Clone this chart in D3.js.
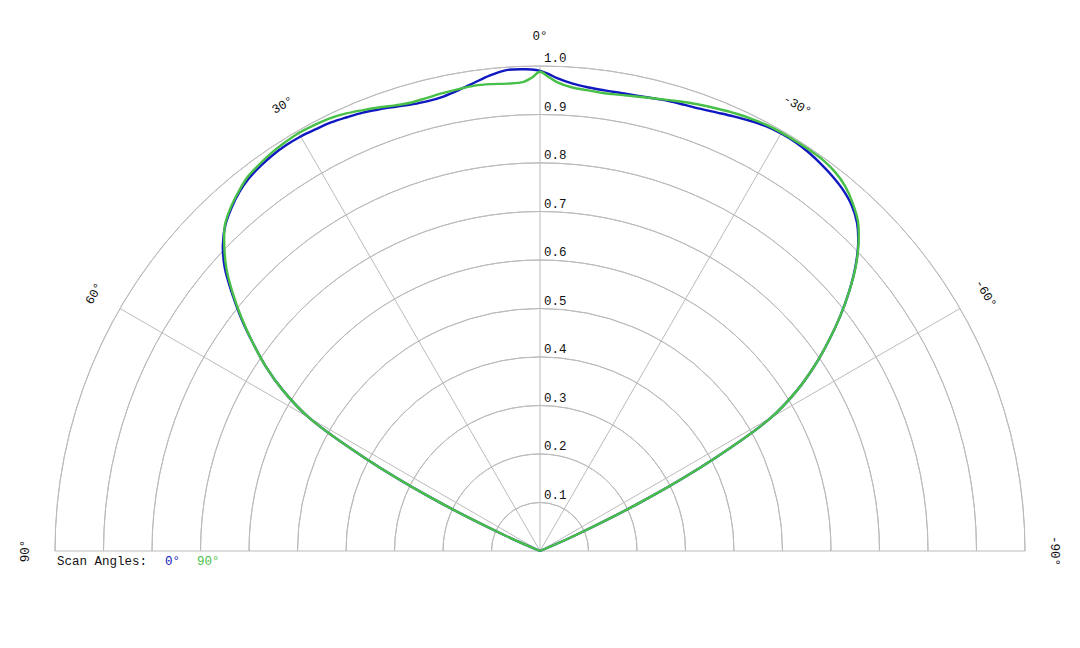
<!DOCTYPE html>
<html>
<head>
<meta charset="utf-8">
<script src="https://cdn.jsdelivr.net/npm/d3@7"></script>
<style>
  html, body { margin: 0; padding: 0; background: #fff; }
  svg text { font-family: "Courier New", "Liberation Mono", "DejaVu Sans Mono", monospace; }
</style>
</head>
<body>
<svg id="chart" width="1080" height="648"></svg>
<script>
// Angles in degrees (positive = left of vertical, negative = right)
const angles = [-90,-80,-70,-68,-66,-64,-62,-60,-58,-56,-54,-52,-50,-48,-46,-44,-42,-40,-38,-36,-34,-32,-30,-28,-26,-24,-22,-20,-18,-16,-14,-12,-10,-8,-6,-4,-2,-1,0,
                1,2,4,6,8,10,12,14,16,18,20,22,24,26,28,30,32,34,36,38,40,42,44,46,48,50,52,54,56,58,60,62,64,66,68,70,80,90];

const scan0 = [0,0,0,0,0.08,0.245,0.41,0.55,0.625,0.683,0.735,0.785,0.832,0.875,0.912,0.941,0.960,0.972,0.980,0.986,0.991,0.994,0.994,0.992,0.987,0.981,0.975,0.970,0.967,0.965,0.962,0.960,0.959,0.959,0.961,0.966,0.976,0.984,0.990,
               0.993,0.994,0.994,0.986,0.975,0.965,0.958,0.956,0.958,0.963,0.969,0.975,0.979,0.983,0.985,0.987,0.987,0.985,0.981,0.975,0.965,0.951,0.934,0.909,0.875,0.830,0.783,0.733,0.683,0.625,0.55,0.41,0.245,0.08,0,0,0,0];

const scan90 = [0,0,0,0,0.08,0.245,0.41,0.55,0.625,0.683,0.735,0.785,0.832,0.876,0.913,0.944,0.964,0.980,0.990,0.995,0.996,0.996,0.996,0.995,0.992,0.988,0.983,0.978,0.973,0.967,0.962,0.958,0.955,0.953,0.955,0.958,0.968,0.978,0.988,
                0.976,0.968,0.966,0.968,0.969,0.967,0.965,0.963,0.962,0.966,0.973,0.980,0.987,0.992,0.994,0.995,0.993,0.990,0.985,0.979,0.967,0.953,0.935,0.905,0.870,0.827,0.781,0.733,0.683,0.625,0.55,0.41,0.245,0.08,0,0,0,0];

const ringTicks = [0.1,0.2,0.3,0.4,0.5,0.6,0.7,0.8,0.9,1.0];
const spokeAngles = [-90,-60,-30,0,30,60,90];
const angleLabels = ["-90°","-60°","-30°","0°","30°","60°","90°"];
const seriesNames = ["0°","90°"];
const seriesColors = ["#1018c0","#48c048"];
const legendTitle = "Scan Angles:";

const svg = d3.select("#chart");
const cx = 540, cy = 551, R = 485;
const g = svg.append("g").attr("transform", `translate(${cx},${cy})`);

const r = d3.scaleLinear().domain([0, 1]).range([0, R]);
const a = d3.scaleLinear().domain([-90, 90]).range([Math.PI / 2, -Math.PI / 2]);

// rings (upper semicircles)
const arc = d3.arc().startAngle(-Math.PI / 2).endAngle(Math.PI / 2);
g.selectAll("path.ring").data(ringTicks).enter().append("path")
  .attr("class", "ring")
  .attr("d", d => arc({innerRadius: r(d), outerRadius: r(d)}))
  .attr("fill", "none").attr("stroke", "#bbbbbb").attr("stroke-width", 1);

// spokes
g.selectAll("line.spoke").data(spokeAngles).enter().append("line")
  .attr("x1", 0).attr("y1", 0)
  .attr("x2", d => r(1) * Math.sin(a(d)))
  .attr("y2", d => -r(1) * Math.cos(a(d)))
  .attr("stroke", "#bbbbbb").attr("stroke-width", 1);

// ring labels
g.selectAll("text.rl").data(ringTicks).enter().append("text")
  .attr("x", 4).attr("y", d => -r(d) - 4)
  .attr("font-size", 12.5).attr("fill", "#111")
  .text(d => d3.format(".1f")(d));

// angle labels
const labR = R + 29;
g.selectAll("text.al").data(spokeAngles).enter().append("text")
  .attr("transform", d => {
    const x = labR * Math.sin(a(d)), y = -labR * Math.cos(a(d));
    return `translate(${x},${y}) rotate(${-d})`;
  })
  .attr("text-anchor", "middle").attr("dominant-baseline", "central")
  .attr("font-size", 12.5).attr("fill", "#111")
  .text((d, i) => angleLabels[i]);

// curves
const line = d3.lineRadial()
  .angle(d => a(d[0]))
  .radius(d => r(d[1]))
  .curve(d3.curveCatmullRom.alpha(0.5));

[scan0, scan90].forEach((vals, i) => {
  g.append("path")
    .datum(angles.map((ang, j) => [ang, vals[j]]))
    .attr("d", line)
    .attr("fill", "none")
    .attr("stroke", seriesColors[i])
    .attr("stroke-width", 2.4)
    .attr("stroke-linejoin", "round");
});

// legend
const legX = [165, 197];
svg.append("text").attr("x", 57).attr("y", 565).attr("font-size", 12.5)
  .attr("fill", "#111").text(legendTitle);
seriesNames.forEach((n, i) => {
  svg.append("text").attr("x", legX[i]).attr("y", 565).attr("font-size", 12.5)
    .attr("fill", seriesColors[i]).text(n);
});
</script>
</body>
</html>
